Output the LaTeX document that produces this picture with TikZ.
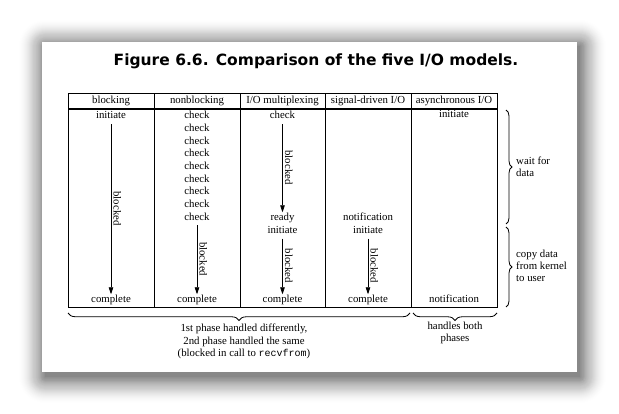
\documentclass[tikz,border=0pt]{standalone}
\usepackage{fontspec}
\newfontfamily\titlefont{DejaVu Sans}
\setmainfont{Liberation Serif}
\setmonofont{Liberation Mono}
\usetikzlibrary{arrows.meta,decorations.pathreplacing}
\tikzset{
  cell/.style={font=\fontsize{10.8}{12}\selectfont, inner sep=1pt, text height=7pt, text depth=2pt},
  note/.style={font=\fontsize{10.8}{12}\selectfont, inner sep=0pt, align=left},
  rule/.style={line width=0.8pt},
  flow/.style={line width=0.8pt, -{Triangle[width=4.5pt,length=7pt]}, shorten <=2pt, shorten >=0.5pt},
  blk/.style={font=\fontsize{10.8}{12}\selectfont, midway, rotate=-90, anchor=south, inner sep=2pt},
  brc/.style={line width=0.8pt, decorate, decoration={brace, amplitude=#1}},
}
\begin{document}
\begin{tikzpicture}[x=1pt,y=-1pt]
\useasboundingbox (0,0) rectangle (619,414);
% soft drop shadow
\foreach \i in {0,...,27} {
  \pgfmathsetmacro\op{0.042*(28-\i)/28}
  \fill[black,opacity=\op,rounded corners=\i pt] (45-\i,46-\i) rectangle (580+\i,377+\i);
}
\fill[white] (42,42) rectangle (577,372);
% title
\node[font=\titlefont\bfseries\fontsize{15.5}{18}\selectfont, inner sep=0pt] (title) at (316,61) {Figure 6.6. Comparison of the five I/O models.};
% table
\draw[rule] (68,93.5) rectangle (497,307);
\draw[line width=2pt] (68,109.5) -- (497,109.5);
\foreach \x in {154,240,325,411} { \draw[rule] (\x,93.5) -- (\x,307); }
% headers
\node[cell] (h1) at (111,101) {blocking};
\node[cell] (h2) at (197,101) {nonblocking};
\node[cell] (h3) at (282.5,101) {I/O multiplexing};
\node[cell] (h4) at (368,101) {signal-driven I/O};
\node[cell] (h5) at (454,101) {asynchronous I/O};
% blocking
\node[cell] (b1) at (111,116.5) {initiate};
\node[cell] (b2) at (111,300.5) {complete};
\draw[flow] (b1) -- (b2) node[blk] (bl1) {blocked};
% nonblocking
\foreach \k in {0,...,8} { \node[cell] (c\k) at (197,116.5+12.65*\k) {check}; }
\node[cell] (n2) at (197,300.5) {complete};
\draw[flow] (c8) -- (n2) node[blk] (bl2) {blocked};
% multiplexing
\node[cell] (m0) at (282.5,116.5) {check};
\node[cell] (m1) at (282.5,218.5) {ready};
\node[cell] (m2) at (282.5,231) {initiate};
\node[cell] (m3) at (282.5,300.5) {complete};
\draw[flow] (m0) -- (m1) node[blk] (bl3) {blocked};
\draw[flow] (m2) -- (m3) node[blk] (bl4) {blocked};
% signal driven
\node[cell] (s1) at (368,218.5) {notification};
\node[cell] (s2) at (368,231) {initiate};
\node[cell] (s3) at (368,300.5) {complete};
\draw[flow] (s2) -- (s3) node[blk] (bl5) {blocked};
% async
\node[cell] (a1) at (454,115.5) {initiate};
\node[cell] (a2) at (454,300.5) {notification};
% right braces
\coordinate (r1a) at (506,110);
\coordinate (r1b) at (506,224);
\coordinate (r2a) at (506,227);
\coordinate (r2b) at (506,307);
\draw[brc=6pt] (r1a) -- (r1b);
\draw[brc=6pt] (r2a) -- (r2b);
\node[note, anchor=west] (wait) at (516,166.5) {wait for\\data};
\node[note, anchor=west] (copy) at (516,266) {copy data\\from kernel\\to user};
% bottom braces
\coordinate (d1a) at (410,313);
\coordinate (d1b) at (68,313);
\coordinate (d2a) at (497,313);
\coordinate (d2b) at (413,313);
\draw[brc=7.5pt] (d1a) -- (d1b);
\draw[brc=7.5pt] (d2a) -- (d2b);
\node[note, align=center, font=\fontsize{10.8}{12.5}\selectfont] (phase) at (244,341.5) {1st phase handled differently,\\2nd phase handled the same\\(blocked in call to {\ttfamily\fontsize{10}{12.5}\selectfont recvfrom})};
\node[note, align=center] (both) at (455,333) {handles both\\phases};
\end{tikzpicture}
\end{document}
